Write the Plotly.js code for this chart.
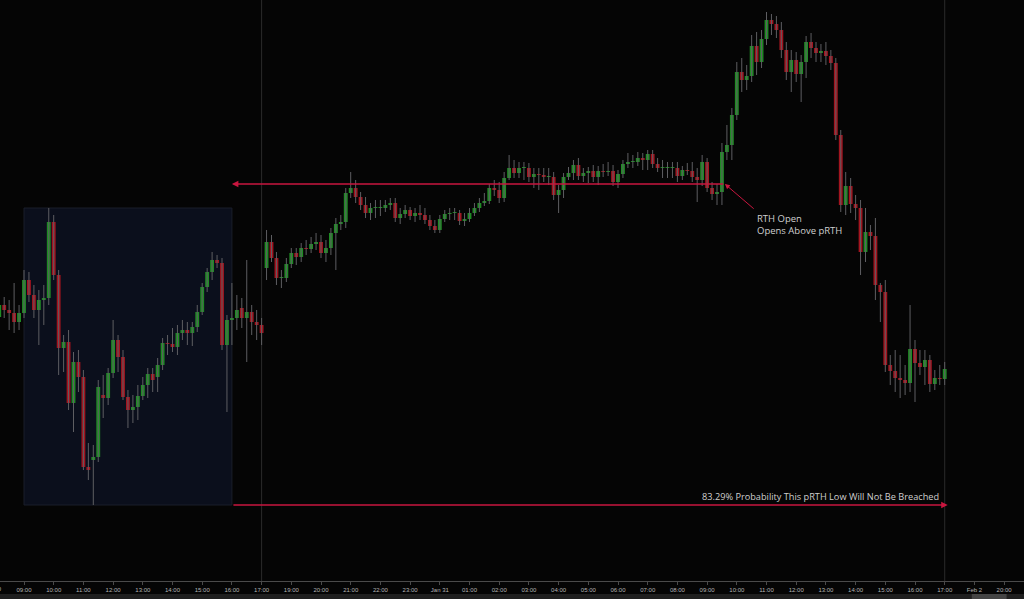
<!DOCTYPE html>
<html><head><meta charset="utf-8">
<script src="https://cdn.plot.ly/plotly-3.0.1.min.js"></script>
<style>html,body{margin:0;padding:0;background:#050505;overflow:hidden}#chart{width:1024px;height:599px}</style>
</head><body><div id="chart"></div>
<script>
// 10-minute candles, session hours axis (17:00-18:00 break collapsed)
const tickLabels = ["08:00","09:00","10:00","11:00","12:00","13:00","14:00","15:00","16:00","17:00","19:00","20:00","21:00","22:00","23:00","Jan 31","01:00","02:00","03:00","04:00","05:00","06:00","07:00","08:00","09:00","10:00","11:00","12:00","13:00","14:00","15:00","16:00","17:00","Feb 2","20:00"];

const openP = [21483,21495,21490,21487,21478,21487,21520,21505,21490,21500,
21502,21578,21525,21452,21458,21397,21438,21423,21333,21340,
21343,21405,21402,21427,21460,21443,21403,21390,21393,21404,
21415,21426,21423,21435,21457,21456,21453,21467,21470,21467,
21473,21488,21513,21528,21540,21537,21455,21480,21482,21492,
21482,21488,21478,21475,
21532,21558,21542,21522,21522,21536,
21547,21543,21552,21551,21556,21558,21547,21552,21567,21576,
21578,21607,21612,21603,21595,21587,21592,21592,21592,21595,
21597,21582,21586,21590,21584,21587,21585,21580,21574,21570,
21581,21586,21587,21587,21579,21581,21587,21592,21597,21599,
21612,21610,21602,21622,21632,21627,21632,21632,21623,21626,
21625,21623,21623,21605,21610,21623,21627,21635,21624,21627,
21629,21623,21629,21628,21629,21618,21626,21636,21638,21638,
21642,21640,21646,21636,21632,21632,21632,21632,21624,21630,
21629,21623,21620,21638,21612,21606,21608,21648,21655,21685,
21728,21720,21724,21754,21738,21761,21780,21776,21770,21750,
21728,21740,21726,21738,21758,21752,21747,21749,21744,21737,
21665,21595,21614,21596,21592,21548,21568,21564,21515,21508,
21435,21429,21422,21420,21417,21451,21437,21433,21440,21416,
21422,21421];

const highP = [21502,21503,21500,21517,21495,21530,21528,21515,21510,21515,
21592,21585,21530,21465,21470,21448,21450,21430,21357,21355,
21420,21425,21432,21480,21465,21450,21410,21405,21415,21423,
21432,21432,21442,21462,21465,21472,21475,21480,21478,21478,
21495,21517,21532,21548,21545,21542,21485,21517,21505,21502,
21540,21495,21490,21482,
21570,21565,21548,21530,21542,21552,
21552,21557,21560,21563,21567,21565,21560,21572,21582,21585,
21612,21628,21620,21608,21603,21597,21600,21600,21600,21602,
21602,21592,21595,21593,21592,21595,21592,21585,21580,21585,
21590,21592,21592,21590,21587,21592,21597,21602,21607,21616,
21620,21618,21628,21645,21640,21638,21638,21637,21632,21632,
21632,21632,21628,21615,21627,21633,21640,21642,21632,21633,
21635,21634,21636,21638,21635,21630,21640,21647,21645,21648,
21647,21650,21650,21642,21640,21638,21638,21638,21634,21637,
21638,21632,21645,21642,21618,21616,21657,21675,21692,21738,
21742,21735,21765,21768,21770,21788,21786,21784,21778,21758,
21750,21748,21745,21764,21767,21758,21756,21758,21750,21742,
21670,21628,21622,21605,21600,21592,21575,21582,21517,21520,
21445,21450,21445,21435,21495,21460,21450,21450,21445,21430,
21435,21438];

const lowP = [21478,21482,21470,21467,21470,21482,21498,21482,21455,21475,
21495,21520,21425,21428,21390,21368,21408,21330,21320,21295,
21338,21382,21395,21422,21428,21400,21372,21377,21380,21400,
21402,21408,21408,21430,21445,21448,21445,21460,21455,21454,
21468,21485,21508,21520,21532,21450,21388,21455,21470,21472,
21438,21465,21460,21455,
21520,21538,21515,21512,21518,21532,
21535,21538,21545,21547,21550,21542,21538,21545,21530,21570,
21572,21602,21597,21590,21582,21580,21582,21584,21588,21590,
21578,21576,21582,21580,21578,21580,21576,21570,21567,21567,
21578,21580,21580,21575,21574,21578,21584,21588,21594,21596,
21604,21597,21598,21620,21622,21622,21620,21618,21612,21610,
21618,21615,21600,21587,21602,21620,21620,21620,21618,21617,
21618,21615,21623,21624,21614,21612,21622,21632,21632,21634,
21630,21630,21632,21628,21622,21622,21622,21618,21620,21625,
21618,21598,21614,21608,21600,21595,21595,21640,21640,21680,
21708,21710,21718,21725,21732,21755,21765,21762,21742,21720,
21708,21718,21698,21722,21742,21738,21738,21735,21730,21660,
21588,21585,21587,21580,21525,21538,21550,21500,21478,21428,
21415,21408,21402,21405,21408,21398,21425,21415,21408,21410,
21415,21415];

const closeP = [21495,21490,21487,21478,21487,21520,21505,21490,21500,21502,
21578,21525,21452,21458,21397,21438,21423,21333,21330,21343,
21413,21402,21427,21460,21443,21403,21390,21393,21404,21415,
21426,21420,21435,21457,21456,21453,21467,21470,21467,21473,
21488,21513,21528,21540,21537,21455,21480,21482,21490,21482,
21488,21478,21475,21467,
21558,21542,21522,21522,21536,21547,
21543,21552,21551,21556,21558,21547,21552,21567,21576,21578,
21607,21612,21603,21595,21587,21592,21592,21592,21595,21597,
21582,21586,21590,21584,21587,21585,21580,21574,21570,21581,
21586,21587,21587,21579,21581,21587,21592,21597,21599,21612,
21610,21602,21622,21632,21627,21632,21632,21623,21626,21625,
21623,21623,21605,21610,21623,21627,21635,21624,21627,21629,
21623,21629,21628,21629,21618,21626,21636,21638,21638,21642,
21640,21646,21636,21632,21632,21632,21632,21624,21630,21629,
21623,21620,21638,21612,21606,21608,21648,21655,21685,21728,
21720,21724,21754,21738,21761,21780,21776,21770,21750,21728,
21740,21726,21738,21758,21752,21747,21749,21744,21737,21665,
21595,21614,21596,21592,21548,21568,21564,21515,21508,21435,
21429,21422,21420,21417,21451,21437,21433,21440,21416,21422,
21421,21431];

const pRTHHigh = 21592, pRTHLow = 21295, rthOpenPrice = 21616;
const pRTHStart = 1, pRTHEnd = 8, rthOpenTime = 24.6, lastTime = 32.1;
const probText = "83.29% Probability This pRTH Low Will Not Be Breached";

const barTime = openP.map((_, i) => (i + 1) / 6);

const wx = [], wy = [];
barTime.forEach((t, i) => { wx.push(t, t, null); wy.push(highP[i], lowP[i], null); });

const GREEN = '#1f8b24', RED = '#a3141f';
const wicks = {type:'scatter', mode:'lines', x:wx, y:wy, line:{color:'#5e5e62', width:1}, hoverinfo:'skip', showlegend:false};
const bodies = {type:'bar', x:barTime,
  base: openP.map((o, i) => Math.min(o, closeP[i])),
  y: openP.map((o, i) => Math.max(Math.abs(closeP[i] - o), 1)),
  width: 0.13,
  marker:{color: openP.map((o, i) => closeP[i] >= o ? GREEN : RED), line:{width:0}},
  hoverinfo:'skip', showlegend:false};

const tickVals = tickLabels.map((_, i) => i);
const LINE = '#c8163f';

const layout = {
  width:1024, height:599,
  margin:{l:0, r:0, t:0, b:18, pad:0},
  paper_bgcolor:'#050505', plot_bgcolor:'#050505',
  showlegend:false, barmode:'overlay',
  xaxis:{range:[0.192, 34.67], tickvals:tickVals, ticktext:tickLabels, showgrid:false, zeroline:false,
    showline:true, linecolor:'#4a4a4a', linewidth:1, ticks:'outside', ticklen:3, tickcolor:'#4a4a4a',
    tickfont:{family:'Liberation Sans, Arial, sans-serif', size:6, color:'#b4b4b4'}, fixedrange:true},
  yaxis:{range:[21219, 21800], visible:false, fixedrange:true},
  shapes:[
    {type:'rect', layer:'below', xref:'x', yref:'y', x0:pRTHStart, x1:pRTHEnd, y0:pRTHLow, y1:pRTHHigh,
      fillcolor:'#0b0f1c', line:{color:'#1b1f2b', width:1}},
    {type:'line', layer:'below', xref:'x', yref:'paper', x0:9, x1:9, y0:0, y1:1, line:{color:'#2a2a2a', width:1}},
    {type:'line', layer:'below', xref:'x', yref:'paper', x0:32, x1:32, y0:0, y1:1, line:{color:'#2a2a2a', width:1}},
    {type:'rect', xref:'paper', yref:'paper', x0:0, x1:1, y0:-0.031, y1:-0.0224, fillcolor:'#1f1f1f', line:{width:0}},
    {type:'rect', xref:'paper', yref:'paper', x0:0.949, x1:0.983, y0:-0.031, y1:-0.0224, fillcolor:'#444444', line:{width:0}}
  ],
  annotations:[
    {xref:'x', yref:'y', x:pRTHEnd, y:rthOpenPrice, axref:'x', ayref:'y', ax:rthOpenTime, ay:rthOpenPrice,
      text:'', showarrow:true, arrowhead:2, arrowsize:1, arrowwidth:1.3, arrowcolor:LINE, standoff:0},
    {xref:'x', yref:'y', x:lastTime, y:pRTHLow, axref:'x', ayref:'y', ax:pRTHEnd, ay:pRTHLow,
      text:'', showarrow:true, arrowhead:2, arrowsize:1, arrowwidth:1.3, arrowcolor:LINE, standoff:0},
    {xref:'x', yref:'y', x:rthOpenTime, y:rthOpenPrice, axref:'x', ayref:'y', ax:25.62, ay:21590,
      text:'', showarrow:true, arrowhead:2, arrowsize:1, arrowwidth:1, arrowcolor:LINE, standoff:0},
    {xref:'x', yref:'y', x:25.62, y:21590, xanchor:'left', yanchor:'top', align:'left', showarrow:false,
      text:'RTH Open<br>Opens Above pRTH', font:{family:'Open Sans, sans-serif', size:9.5, color:'#cfcfcf'}},
    {xref:'x', yref:'y', x:31.86, y:21304, xanchor:'right', yanchor:'middle', showarrow:false,
      text:probText, font:{family:'Open Sans, sans-serif', size:9.2, color:'#cfcfcf'}},
    {xref:'paper', yref:'paper', x:-5.7/1024, y:-0.005, xanchor:'center', yanchor:'top', showarrow:false,
      text:tickLabels[0], font:{family:'Liberation Sans, Arial, sans-serif', size:6, color:'#b4b4b4'}}
  ]
};

Plotly.newPlot('chart', [wicks, bodies], layout, {staticPlot:true, displayModeBar:false});
</script></body></html>
